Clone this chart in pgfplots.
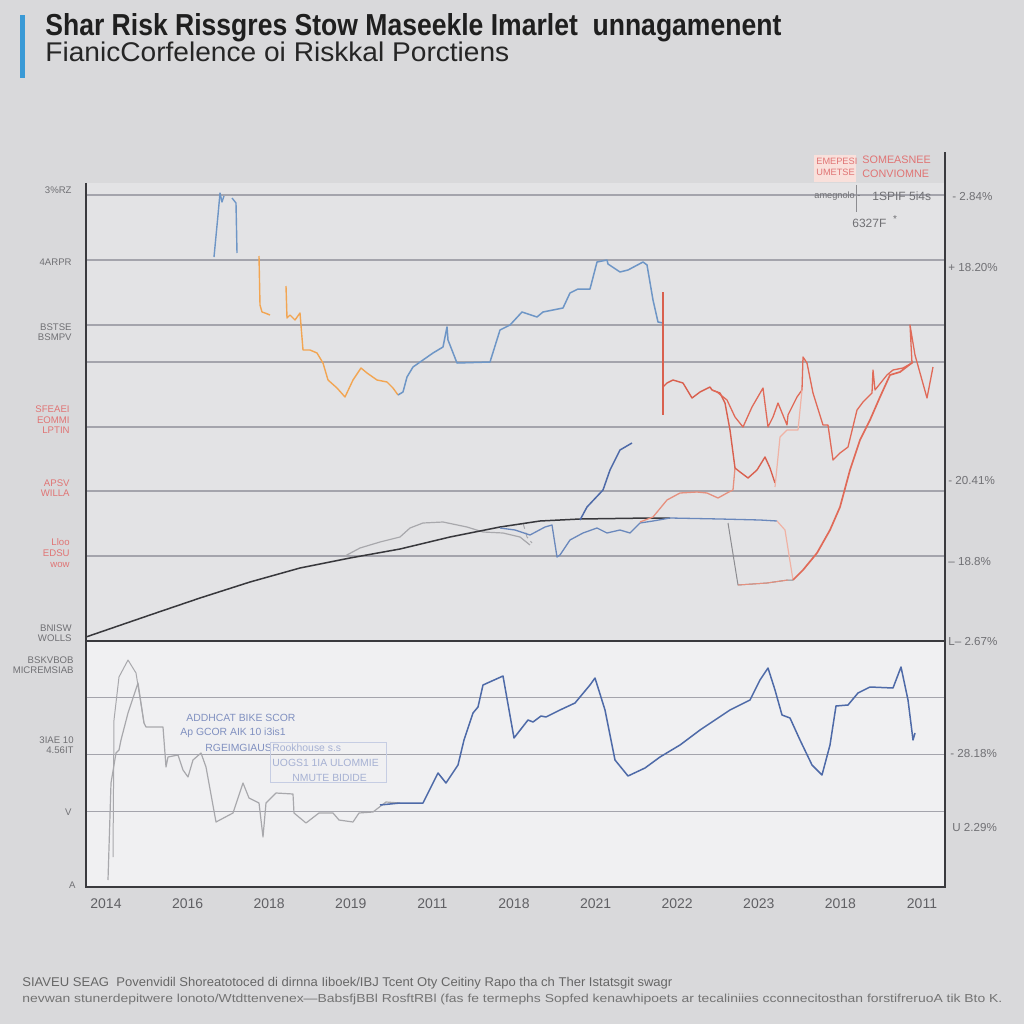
\documentclass[border=0pt]{standalone}
\usepackage{fontspec}
\setmainfont{Liberation Sans}
\usepackage{graphicx}
\usepackage{pgfplots}
\pgfplotsset{compat=1.18}
\definecolor{bgout}{HTML}{D9D9DB}
\definecolor{upbg}{HTML}{E3E3E5}
\definecolor{lowbg}{HTML}{F0F0F2}
\definecolor{titlebar}{HTML}{3A9AD6}
\definecolor{gridc}{HTML}{A4A4AC}
\definecolor{spine}{HTML}{3A3A3E}
\definecolor{lblue}{HTML}{6E96C6}
\definecolor{mblue}{HTML}{6A88BC}
\definecolor{nblue}{HTML}{4E6AA8}
\definecolor{orng}{HTML}{F2A552}
\definecolor{redl}{HTML}{E06A58}
\definecolor{redd}{HTML}{D9604E}
\definecolor{pinkl}{HTML}{F0B2A4}
\definecolor{salmon}{HTML}{E6907E}
\definecolor{grayl}{HTML}{A8A8AC}
\definecolor{grayd}{HTML}{8C8C90}
\definecolor{blk}{HTML}{38383C}
\definecolor{ticklab}{HTML}{606064}
\definecolor{sidelab}{HTML}{707074}
\definecolor{redlab}{HTML}{E07474}
\definecolor{annob}{HTML}{8090C0}
\begin{document}
\begin{tikzpicture}
\path[use as bounding box] (0,0) rectangle (512pt,512pt);
\fill[bgout] (0,0) rectangle (512pt,512pt);
\begin{scope}[x=0.5pt,y=-0.5pt,yshift=512pt]
\fill[upbg] (86,183) rectangle (945,641);
\fill[lowbg] (86,641) rectangle (945,887);
\fill[titlebar] (20,15) rectangle (25,78);
\end{scope}

% ---------------- upper panel ----------------
\begin{axis}[at={(43pt,191.5pt)}, anchor=south west, scale only axis,
  width=429.5pt, height=244.5pt,
  xmin=86, xmax=945, ymin=152, ymax=641, y dir=reverse,
  axis line style={draw=none}, xtick=\empty,
  ytick={195,260,325,362,427,491,556}, yticklabels={}, major tick length=0pt,
  ymajorgrids, grid style={gridc, line width=0.55pt},
  clip=false, line join=round]
\addplot[lblue, line width=0.7pt] coordinates {(214,257)(218,215)(220,193)(222,202)(224,196)};
\addplot[lblue, line width=0.7pt] coordinates {(232,198)(236,203)(237,253)};
\addplot[orng, line width=0.7pt] coordinates {(259,256)(260,305)(262,312)(265,313)(270,315)};
\addplot[orng, line width=0.7pt] coordinates {(286,286)(287,318)(290,315)(295,320)(300,313)(303,350)(310,350)(317,353)(323,363)(328,380)(337,388)(345,397)(353,380)(361,368)(367,373)(377,380)(387,382)(393,388)(398,395)};
\addplot[lblue, line width=0.75pt] coordinates {(398,395)(403,392)(407,377)(413,367)(423,360)(433,353)(443,347)(447,327)(448,340)(457,363)(490,362)(500,330)(510,325)(522,312)(537,317)(543,312)(563,308)(570,293)(578,289)(590,289)(597,262)(607,260)(608,264)(620,272)(628,270)(643,262)(647,265)(653,300)(658,322)(663,323)};
\addplot[redd, line width=0.7pt] coordinates {(663,292)(663,415)};
\addplot[grayl, line width=0.6pt] coordinates {(345,556)(360,548)(380,542)(400,537)(410,528)(423,523)(443,522)(467,527)(483,532)(503,533)(520,537)(530,545)};
\addplot[grayl, line width=0.5pt, densely dashed] coordinates {(523,523)(527,537)(532,543)};
\addplot[blk, line width=0.75pt] coordinates {(86,637)(150,615)(200,598)(250,582)(300,568)(350,558)(400,549)(450,537)(500,527)(540,521)(580,519)(650,518)(670,518)};
\addplot[mblue, line width=0.65pt] coordinates {(500,528)(515,530)(530,535)(545,527)(552,525)(557,557)(560,555)(570,540)(583,533)(597,528)(607,533)(620,530)(630,533)(640,523)(653,521)(670,518)(720,519)(760,520)(777,521)};
\addplot[pinkl, line width=0.6pt] coordinates {(777,521)(785,530)(793,580)};
\addplot[grayd, line width=0.5pt] coordinates {(728,523)(738,585)(767,583)(788,580)(793,580)};
\addplot[salmon, line width=0.5pt] coordinates {(738,585)(767,583)(788,580)};
\addplot[nblue, line width=0.75pt] coordinates {(580,520)(587,507)(603,490)(610,470)(620,450)(632,443)};
\addplot[salmon, line width=0.65pt] coordinates {(640,522)(653,517)(667,500)(680,493)(697,492)(707,493)(718,498)(727,493)(733,490)(735,468)};
\addplot[redd, line width=0.7pt] coordinates {(663,387)(667,383)(673,380)(683,383)(692,398)(700,392)(710,387)(712,390)(720,393)(725,403)(730,430)(735,468)(740,472)(748,478)(757,470)(765,457)(770,468)(775,483)};
\addplot[redl, line width=0.65pt] coordinates {(712,390)(717,392)(727,400)(735,417)(743,427)(752,407)(763,388)(768,427)(773,417)(778,403)(787,425)(788,415)(797,397)(802,390)(803,357)(807,363)(813,393)(823,425)(828,425)(833,460)(840,453)(848,447)(857,410)(863,402)(872,393)(873,370)(875,390)(887,375)(893,370)(903,368)(912,363)(910,325)(915,355)(927,398)(933,367)};
\addplot[pinkl, line width=0.6pt] coordinates {(775,487)(780,437)(787,430)(798,430)(802,390)};
\addplot[redl, line width=0.85pt] coordinates {(793,580)(803,570)(817,553)(830,530)(840,507)(850,470)(860,440)(870,420)(880,397)(890,375)(900,372)(913,362)};
\end{axis}

% ---------------- lower panel ----------------
\begin{axis}[at={(43pt,68.5pt)}, anchor=south west, scale only axis,
  width=429.5pt, height=123pt,
  xmin=86, xmax=945, ymin=641, ymax=887, y dir=reverse,
  axis line style={draw=none},
  xtick={106,187.6,269.2,350.8,432.4,514,595.6,677.2,758.8,840.4,922},
  xticklabels={2014,2016,2018,2019,2011,2018,2021,2022,2023,2018,2011},
  xticklabel style={font=\fontsize{7}{8}\selectfont, text=ticklab, yshift=-2.5pt},
  /pgf/number format/assume math mode=true,
  ytick={697,754,811}, yticklabels={}, major tick length=0pt,
  ymajorgrids, grid style={gridc, line width=0.5pt},
  clip=false, line join=round]
\addplot[grayl, line width=0.6pt] coordinates {(108,880)(111,783)(116,753)(119,750)(121,740)(128,713)(138,683)(144,723)(146,727)(163,727)(166,767)(168,757)(178,755)(183,770)(188,777)(193,760)(201,753)(206,767)(216,822)(233,813)(243,783)(249,798)(259,803)(263,837)(266,803)(276,793)(293,794)(294,813)(306,823)(319,813)(333,813)(339,820)(353,822)(359,813)(373,812)(386,802)(400,803)};
\addplot[grayl, line width=0.5pt] coordinates {(113,857)(114,720)(119,677)(128,660)(136,673)(144,723)};
\addplot[nblue, line width=0.75pt] coordinates {(380,805)(400,803)(423,803)(438,773)(446,783)(458,765)(464,740)(473,713)(478,707)(483,685)(503,676)(514,738)(528,720)(533,722)(541,716)(546,717)(560,710)(575,703)(590,685)(595,678)(605,710)(615,760)(628,776)(645,768)(660,757)(680,745)(700,730)(715,720)(730,710)(740,705)(750,700)(760,680)(768,668)(775,690)(782,715)(790,718)(800,740)(812,765)(822,775)(830,745)(836,706)(848,705)(858,693)(870,687)(893,688)(901,667)(908,700)(913,740)(915,733)};
\end{axis}

% ---------------- frames and texts (pixel coordinates) ----------------
\begin{scope}[x=0.5pt,y=-0.5pt,yshift=512pt]
\draw[spine, line width=0.7pt] (86,183) -- (86,887) -- (945,887) -- (945,152);
\draw[spine, line width=0.7pt] (86,641) -- (945,641);
% title
\node[anchor=base west, inner sep=0pt, text=black!88] at (45,36)
  {\resizebox{368pt}{11pt}{\bfseries Shar Risk Rissgres Stow Maseekle Imarlet\ \ unnagamenent}};
\node[anchor=base west, inner sep=0pt, text=black!85] at (45,62)
  {\resizebox{232pt}{9.8pt}{FianicCorfelence oi Riskkal Porctiens}};
% left labels
\begin{scope}[every node/.style={anchor=east, inner sep=0pt, align=right, font=\fontsize{4.8}{5.3}\selectfont}]
\node[text=sidelab] at (72,190) {3\%RZ};
\node[text=sidelab] at (72,262) {4ARPR};
\node[text=sidelab] at (72,332) {BSTSE\\BSMPV};
\node[text=redlab] at (70,420) {SFEAEI\\EOMMI\\LPTIN};
\node[text=redlab] at (70,488) {APSV\\WILLA};
\node[text=redlab] at (70,553) {Lloo\\EDSU\\wow};
\node[text=sidelab] at (72,633) {BNISW\\WOLLS};
\node[text=sidelab] at (74,665) {BSKVBOB\\MICREMSIAB};
\node[text=sidelab] at (74,745) {3IAE 10\\4.56IT};
\node[text=sidelab] at (72,812) {V};
\node[text=sidelab] at (76,885) {A};
\end{scope}
% right labels
\begin{scope}[every node/.style={anchor=west, inner sep=0pt, font=\fontsize{5.8}{6.5}\selectfont, text=sidelab}]
\node at (952,197) {- 2.84\%};
\node at (948,268) {+ 18.20\%};
\node at (948,481) {- 20.41\%};
\node at (948,562) {-- 18.8\%};
\node at (948,642) {L-- 2.67\%};
\node at (950,754) {- 28.18\%};
\node at (952,828) {U 2.29\%};
\end{scope}
% top-right legend-like notes
\fill[pinkl!40] (814,155) rectangle (856,182);
\node[anchor=north west, inner sep=0pt, align=left, text=redlab, font=\fontsize{4.6}{5.4}\selectfont] at (816,158) {EMEPESI\\UMETSE};
\node[anchor=north west, inner sep=0pt, align=left, text=redlab, font=\fontsize{5.4}{6.6}\selectfont] at (862,156) {SOMEASNEE\\CONVIOMNE};
\node[anchor=west, inner sep=0pt, text=sidelab, font=\fontsize{4.6}{5}\selectfont] at (814,196) {amegnolo -};
\node[anchor=west, inner sep=0pt, text=sidelab, font=\fontsize{6}{7}\selectfont] at (872,196) {1SPIF 5i4s};
\node[anchor=west, inner sep=0pt, text=sidelab, font=\fontsize{6}{7}\selectfont] at (852,222) {6327F \ \textsuperscript{*}};
\draw[grayd, line width=0.3pt] (856,185) -- (856,212);
% lower panel annotations
\begin{scope}[every node/.style={anchor=west, inner sep=0pt, font=\fontsize{5.2}{6}\selectfont, text=annob}]
\node at (186,718) {ADDHCAT BIKE SCOR};
\node at (180,733) {Ap GCOR AIK 10 i3is1};
\node at (205,748) {RGEIMGIAUS};
\node[text=annob!70] at (272,748) {Rookhouse s.s};
\node[text=annob!70] at (272,763) {UOGS1 1IA ULOMMIE};
\node[text=annob!70] at (292,778) {NMUTE BIDIDE};
\end{scope}
\draw[annob!45, line width=0.3pt] (270,742) rectangle (386,782);
% footer
\node[anchor=base west, inner sep=0pt, text=black!60] at (22,987)
  {\resizebox{325pt}{4.6pt}{SIAVEU SEAG\ \ Povenvidil Shoreatotoced di dirnna Iiboek/IBJ Tcent Oty Ceitiny Rapo tha ch Ther Istatsgit swagr}};
\node[anchor=base west, inner sep=0pt, text=black!55] at (22,1003)
  {\resizebox{490pt}{4.2pt}{nevwan stunerdepitwere lonoto/Wtdttenvenex---BabsfjBBl RosftRBl (fas fe termephs Sopfed kenawhipoets ar tecaliniies cconnecitosthan forstifreruoA tik Bto K.}};
\end{scope}
\end{tikzpicture}
\end{document}
